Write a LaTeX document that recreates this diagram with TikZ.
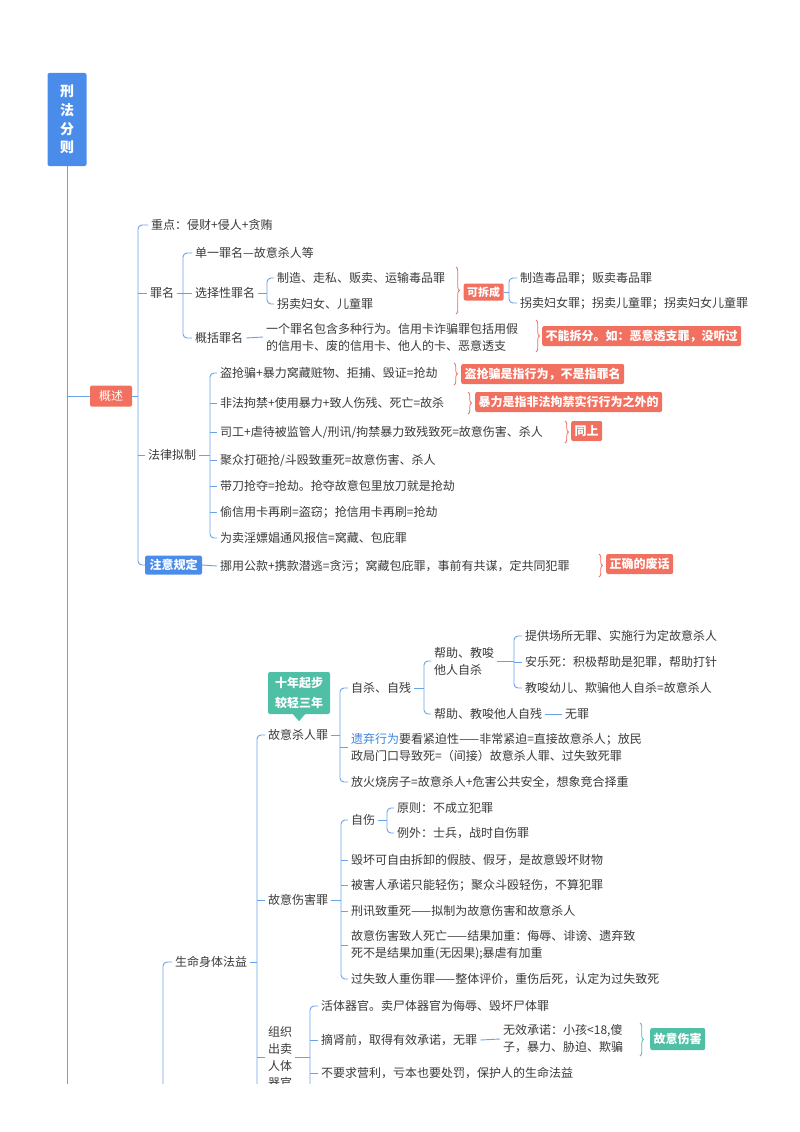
\documentclass[tikz,border=0pt]{standalone}
\usepackage{fontspec}
\setmainfont{Noto Sans CJK SC}
\usetikzlibrary{decorations.pathreplacing}
\definecolor{rootblue}{HTML}{4A8CEA}
\definecolor{lineblue}{HTML}{6AA2EA}
\definecolor{salmonc}{HTML}{F2705F}
\definecolor{tealc}{HTML}{4FBFA5}
\definecolor{txtc}{HTML}{3A3A3A}
\definecolor{linkblue}{HTML}{3D85E0}
\tikzset{
  con/.style={draw=lineblue, line width=0.9pt},
  brk/.style={con, rounded corners=4pt},
  t/.style={anchor=west, inner xsep=3pt, inner ysep=1pt, text=txtc, font=\fontsize{12}{17}\selectfont, align=left},
  sumbox/.style={anchor=west, fill=salmonc, text=white, rounded corners=2pt, font=\bfseries\fontsize{12}{14}\selectfont, inner xsep=3.5pt, inner ysep=0pt, minimum height=20pt},
  tealbox/.style={sumbox, fill=tealc},
  sbrace/.style={draw=salmonc, line width=0.8pt, decorate, decoration={brace, amplitude=3.5pt}},
  tbrace/.style={sbrace, draw=tealc},
  rootbox/.style={fill=rootblue, text=white, rounded corners=2pt, font=\bfseries\fontsize{14}{18.7}\selectfont, align=center, minimum width=39pt, minimum height=93pt, inner sep=0pt},
  secbox/.style={fill=salmonc, text=white, rounded corners=1.5pt, font=\fontsize{12}{14}\selectfont, minimum width=42pt, minimum height=21pt, inner sep=0pt},
  bluebox/.style={fill=rootblue, text=white, rounded corners=1.5pt, font=\bfseries\fontsize{12}{14}\selectfont, minimum width=57pt, minimum height=19pt, inner sep=0pt},
  callout/.style={fill=tealc, text=white, rounded corners=2pt, font=\bfseries\fontsize{12}{20}\selectfont, align=center, minimum width=62pt, minimum height=42pt, inner sep=1pt}
}
\begin{document}
\begin{tikzpicture}[x=1pt,y=-1pt]
\fill[white] (0,0) rectangle (800,1132);
\useasboundingbox (0,0) rectangle (800,1132);
\begin{scope}
\clip (0,0) rectangle (800,1083);
% root
\node[rootbox] (root) at (67,119.5) {刑\\法\\分\\则};
\coordinate (mainbot) at (67,1090);
\draw[con] (root.south) -- (mainbot);

% ===== 概述 =====
\node[secbox] (gs) at (111,396) {概述};
\draw[con] (root.south |- gs.west) -- (gs.west);
\coordinate (b0) at (138,396);
\draw[con] (gs.east) -- (b0);
\node[t] (zd) at (148,225) {重点：侵财+侵人+贪贿};
\node[t] (zm) at (147,293) {罪名};
\node[t] (fl) at (145,455) {法律拟制};
\node[bluebox] (zyg) at (173.5,565) {注意规定};
\draw[brk] (zd.west) -| (b0) |- (zyg.west);
\draw[con] (b0 |- zm.west) -- (zm.west);
\draw[con] (b0 |- fl.west) -- (fl.west);

% 罪名
\coordinate (b1) at (183,293);
\draw[con] (zm.east) -- (b1);
\node[t] (dy) at (192,253) {单一罪名—故意杀人等};
\node[t] (xz) at (192,293) {选择性罪名};
\node[t] (gk) at (192,338) {概括罪名};
\draw[brk] (dy.west) -| (b1) |- (gk.west);
\draw[con] (b1 |- xz.west) -- (xz.west);

% 选择性罪名
\coordinate (b2) at (267,293);
\draw[con] (xz.east) -- (b2);
\node[t] (zz) at (274,278) {制造、走私、贩卖、运输毒品罪};
\node[t] (gm) at (274,304) {拐卖妇女、儿童罪};
\draw[brk] (zz.west) -| (b2) |- (gm.west);
\coordinate (br1a) at (456,267);
\coordinate (br1b) at (456,314);
\draw[sbrace] (br1a) -- (br1b);
\node[sumbox, font=\bfseries\fontsize{11}{13}\selectfont, minimum height=17pt] (kcc) at (463.5,292) {可拆成};
\coordinate (b3) at (509,292);
\draw[con] (kcc.east) -- (b3);
\node[t] (zd2) at (517,278) {制造毒品罪；贩卖毒品罪};
\node[t] (gm2) at (517,303) {拐卖妇女罪；拐卖儿童罪；拐卖妇女儿童罪};
\draw[brk] (zd2.west) -| (b3) |- (gm2.west);

% 概括罪名
\node[t] (gkt) at (263,337) {一个罪名包含多种行为。信用卡诈骗罪包括用假\\的信用卡、废的信用卡、他人的卡、恶意透支};
\draw[con] (gk.east) -- (gkt.west);
\coordinate (br2a) at (536,320);
\coordinate (br2b) at (536,352);
\draw[sbrace] (br2a) -- (br2b);
\node[sumbox] (s2) at (542,336) {不能拆分。如：恶意透支罪，没听过};

% 法律拟制
\coordinate (b4) at (210,455);
\draw[con] (fl.east) -- (b4);
\node[t] (l1) at (217,373) {盗抢骗+暴力窝藏赃物、拒捕、毁证=抢劫};
\node[t] (l2) at (217,403) {非法拘禁+使用暴力+致人伤残、死亡=故杀};
\node[t] (l3) at (217,432) {司工+虐待被监管人/刑讯/拘禁暴力致残致死=故意伤害、杀人};
\node[t] (l4) at (217,460) {聚众打砸抢/斗殴致重死=故意伤害、杀人};
\node[t] (l5) at (217,486) {带刀抢夺=抢劫。抢夺故意包里放刀就是抢劫};
\node[t] (l6) at (217,512) {偷信用卡再刷=盗窃；抢信用卡再刷=抢劫};
\node[t] (l7) at (217,538) {为卖淫嫖娼通风报信=窝藏、包庇罪};
\draw[brk] (l1.west) -| (b4) |- (l7.west);
\foreach \n in {l2,l3,l4,l5,l6} \draw[con] (b4 |- \n.west) -- (\n.west);
\coordinate (br3a) at (454,363);
\coordinate (br3b) at (454,385);
\draw[sbrace] (br3a) -- (br3b);
\node[sumbox] (s3) at (461,374) {盗抢骗是指行为，不是指罪名};
\coordinate (br4a) at (468,392);
\coordinate (br4b) at (468,414);
\draw[sbrace] (br4a) -- (br4b);
\node[sumbox] (s4) at (475,402) {暴力是指非法拘禁实行行为之外的};
\coordinate (br5a) at (565,421);
\coordinate (br5b) at (565,443);
\draw[sbrace] (br5a) -- (br5b);
\node[sumbox] (s5) at (571,431) {同上};

% 注意规定
\node[t] (zy) at (217,566) {挪用公款+携款潜逃=贪污；窝藏包庇罪，事前有共谋，定共同犯罪};
\draw[con] (zyg.east) -- (zy.west);
\coordinate (br6a) at (599,554);
\coordinate (br6b) at (599,577);
\draw[sbrace] (br6a) -- (br6b);
\node[sumbox] (s6) at (606,564) {正确的废话};

% ===== 生命身体法益 =====
\node[t] (smst) at (172,962) {生命身体法益};
\coordinate (bLbot) at (163,1090);
\draw[brk] (smst.west) -| (bLbot);
\coordinate (bS) at (257,962);
\coordinate (bSbot) at (257,1090);
\draw[con] (smst.east) -- (bS);
\node[t] (gysr) at (265,735) {故意杀人罪};
\node[t] (gysh) at (265,900) {故意伤害罪};
\node[t] (zzq) at (265,1057) {组织\\出卖\\人体\\器官};
\draw[brk] (gysr.west) -| (bSbot);
\draw[con] (bS |- gysh.west) -- (gysh.west);
\draw[con] (bS |- zzq.west) -- (zzq.west);

% callout
\node[callout] (cb) at (299,693) {十年起步\\较轻三年};
\fill[tealc] ([xshift=-6pt]cb.south) -- ([xshift=6pt]cb.south) -- ([yshift=-7pt]cb.south) -- cycle;

% 故意杀人罪
\coordinate (bK) at (340,735);
\draw[con] (gysr.east) -- (bK);
\node[t] (zs) at (348,688) {自杀、自残};
\node[t] (yq) at (348,747) {\textcolor{linkblue}{遗弃行为}要看紧迫性——非常紧迫=直接故意杀人；放民\\政局门口导致死=（间接）故意杀人罪、过失致死罪};
\node[t] (fh) at (348,782) {放火烧房子=故意杀人+危害公共安全，想象竞合择重};
\draw[brk] (zs.west) -| (bK) |- (fh.west);
\draw[con] (bK |- yq.west) -- (yq.west);

\coordinate (bZ) at (424,688);
\draw[con] (zs.east) -- (bZ);
\node[t] (bj) at (431,661) {帮助、教唆\\他人自杀};
\node[t] (bjc) at (431,714) {帮助、教唆他人自残};
\draw[brk] (bj.west) -| (bZ) |- (bjc.west);
\node[t] (wz) at (562,714) {无罪};
\draw[con] (bjc.east) -- (wz.west);

\coordinate (bB) at (514,661);
\draw[con] (bj.east) -- (bB);
\node[t] (tg) at (522,636) {提供场所无罪、实施行为定故意杀人};
\node[t] (al) at (522,662) {安乐死：积极帮助是犯罪，帮助打针};
\node[t] (js) at (522,688) {教唆幼儿、欺骗他人自杀=故意杀人};
\draw[brk] (tg.west) -| (bB) |- (js.west);
\draw[con] (bB |- al.west) -- (al.west);

% 故意伤害罪
\coordinate (bH) at (341,900);
\draw[con] (gysh.east) -- (bH);
\node[t] (zsh) at (348,820) {自伤};
\node[t] (hh) at (348,860) {毁坏可自由拆卸的假肢、假牙，是故意毁坏财物};
\node[t] (bh) at (348,885) {被害人承诺只能轻伤；聚众斗殴轻伤，不算犯罪};
\node[t] (xx) at (348,911) {刑讯致重死——拟制为故意伤害和故意杀人};
\node[t] (gy2) at (348,945) {故意伤害致人死亡——结果加重：侮辱、诽谤、遗弃致\\死不是结果加重(无因果);暴虐有加重};
\node[t] (gs2) at (348,979) {过失致人重伤罪——整体评价，重伤后死，认定为过失致死};
\draw[brk] (zsh.west) -| (bH) |- (gs2.west);
\foreach \n in {hh,bh,xx,gy2} \draw[con] (bH |- \n.west) -- (\n.west);

\coordinate (bZS) at (387,820);
\draw[con] (zsh.east) -- (bZS);
\node[t] (yz) at (394,808) {原则：不成立犯罪};
\node[t] (lw) at (394,833) {例外：士兵，战时自伤罪};
\draw[brk] (yz.west) -| (bZS) |- (lw.west);

% 组织出卖人体器官
\coordinate (bQ) at (310,1057);
\coordinate (bQbot) at (310,1090);
\draw[con] (zzq.east) -- (bQ);
\node[t] (ht) at (318,1006) {活体器官。卖尸体器官为侮辱、毁坏尸体罪};
\node[t] (zs2) at (318,1040) {摘肾前，取得有效承诺，无罪};
\node[t] (bq) at (318,1073) {不要求营利，亏本也要处罚，保护人的生命法益};
\draw[brk] (ht.west) -| (bQbot);
\draw[con] (bQ |- zs2.west) -- (zs2.west);
\draw[con] (bQ |- bq.west) -- (bq.west);
\node[t] (wx) at (500,1039) {无效承诺：小孩<18,傻\\子，暴力、胁迫、欺骗};
\draw[con] (zs2.east) -- (wx.west);
\coordinate (br7a) at (640,1023);
\coordinate (br7b) at (640,1056);
\draw[tbrace] (br7a) -- (br7b);
\node[tealbox, minimum height=22pt] (s7) at (650,1039) {故意伤害};
\end{scope}
\end{tikzpicture}
\end{document}
